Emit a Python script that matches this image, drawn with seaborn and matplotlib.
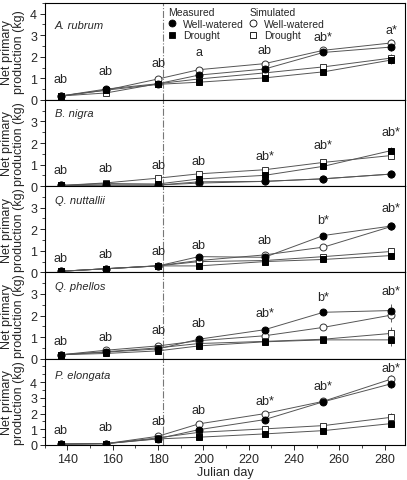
import numpy as np
import matplotlib
matplotlib.use("Agg")
import matplotlib.pyplot as plt
from matplotlib.lines import Line2D
from matplotlib.ticker import MultipleLocator
import seaborn as sns

# Julian days of sampling
days = [137, 157, 180, 198, 227, 253, 283]

species = ["A. rubrum", "B. nigra", "Q. nuttallii", "Q. phellos", "P. elongata"]

# measured well-watered, measured drought, simulated well-watered, simulated drought
rubrum_meas_ww = [0.18, 0.50, 0.75, 1.15, 1.43, 2.20, 2.45]
rubrum_meas_dr = [0.18, 0.45, 0.72, 0.82, 1.02, 1.30, 1.85]
rubrum_sim_ww = [0.18, 0.45, 0.97, 1.40, 1.68, 2.30, 2.64]
rubrum_sim_dr = [0.18, 0.32, 0.75, 0.97, 1.25, 1.53, 1.94]

nigra_meas_ww = [0.03, 0.05, 0.05, 0.20, 0.22, 0.34, 0.56]
nigra_meas_dr = [0.03, 0.12, 0.10, 0.33, 0.50, 0.92, 1.65]
nigra_sim_ww = [0.03, 0.05, 0.05, 0.14, 0.22, 0.34, 0.56]
nigra_sim_dr = [0.03, 0.15, 0.37, 0.57, 0.76, 1.10, 1.42]

nuttallii_meas_ww = [0.05, 0.17, 0.30, 0.73, 0.70, 1.71, 2.15]
nuttallii_meas_dr = [0.05, 0.17, 0.30, 0.30, 0.50, 0.60, 0.78]
nuttallii_sim_ww = [0.05, 0.17, 0.31, 0.55, 0.81, 1.17, 2.13]
nuttallii_sim_dr = [0.05, 0.17, 0.30, 0.50, 0.55, 0.73, 0.97]

phellos_meas_ww = [0.18, 0.30, 0.45, 0.90, 1.34, 2.15, 2.23]
phellos_meas_dr = [0.18, 0.24, 0.36, 0.59, 0.78, 0.87, 0.87]
phellos_sim_ww = [0.18, 0.39, 0.59, 0.83, 1.06, 1.45, 2.02]
phellos_sim_dr = [0.18, 0.32, 0.50, 0.70, 0.80, 0.90, 1.17]

elongata_meas_ww = [0.05, 0.08, 0.40, 0.97, 1.61, 2.75, 3.90]
elongata_meas_dr = [0.05, 0.08, 0.38, 0.49, 0.70, 0.91, 1.36]
elongata_sim_ww = [0.05, 0.08, 0.55, 1.34, 1.99, 2.78, 4.20]
elongata_sim_dr = [0.05, 0.08, 0.45, 0.80, 1.02, 1.23, 1.76]

# standard errors (rough)
rubrum_err = [0.03, 0.05, 0.08, 0.10, 0.10, 0.12, 0.20]
nigra_err = [0.02, 0.04, 0.05, 0.08, 0.10, 0.12, 0.15]
nuttallii_err = [0.02, 0.03, 0.05, 0.08, 0.08, 0.10, 0.15]
phellos_err = [0.03, 0.04, 0.05, 0.06, 0.08, 0.08, 0.30]
elongata_err = [0.02, 0.03, 0.10, 0.15, 0.15, 0.15, 0.25]

# significance letters above each date
rubrum_letters = ["ab", "ab", "ab", "a", "ab", "ab*", "a*"]
nigra_letters = ["ab", "ab", "ab", "ab", "ab*", "ab*", "ab*"]
nuttallii_letters = ["ab", "ab", "ab", "ab", "ab", "b*", "ab*"]
phellos_letters = ["ab", "ab", "ab", "ab", "ab*", "b*", "ab*"]
elongata_letters = ["ab", "ab", "ab", "ab", "ab*", "ab*", "ab*"]

rubrum_letter_y = [0.98, 1.35, 1.70, 2.20, 2.30, 2.90, 3.25]
nigra_letter_y = [0.75, 0.84, 0.98, 1.18, 1.39, 1.93, 2.50]
nuttallii_letter_y = [0.67, 0.86, 1.01, 1.29, 1.51, 2.42, 2.99]
phellos_letter_y = [0.83, 1.01, 1.32, 1.63, 2.12, 2.85, 3.13]
elongata_letter_y = [0.97, 1.12, 1.50, 2.20, 2.78, 3.74, 4.90]

panels = [
    (rubrum_meas_ww, rubrum_meas_dr, rubrum_sim_ww, rubrum_sim_dr, rubrum_err, rubrum_letters, rubrum_letter_y),
    (nigra_meas_ww, nigra_meas_dr, nigra_sim_ww, nigra_sim_dr, nigra_err, nigra_letters, nigra_letter_y),
    (nuttallii_meas_ww, nuttallii_meas_dr, nuttallii_sim_ww, nuttallii_sim_dr, nuttallii_err, nuttallii_letters, nuttallii_letter_y),
    (phellos_meas_ww, phellos_meas_dr, phellos_sim_ww, phellos_sim_dr, phellos_err, phellos_letters, phellos_letter_y),
    (elongata_meas_ww, elongata_meas_dr, elongata_sim_ww, elongata_sim_dr, elongata_err, elongata_letters, elongata_letter_y),
]

ylims = [4.5, 4.0, 4.0, 4.0, 5.5]
name_y = [3.45, 3.4, 3.35, 3.35, 4.45]

sns.set_style("ticks")
plt.rcParams['font.family'] = ['Liberation Sans', 'DejaVu Sans']
plt.rcParams['axes.linewidth'] = 0.8

fig, axes = plt.subplots(5, 1, figsize=(4.07, 4.81), dpi=100, sharex=True,
                         gridspec_kw={'height_ratios': [4.5, 4, 4, 4, 4]})
fig.subplots_adjust(left=0.11, right=0.995, top=0.992, bottom=0.073, hspace=0)

# marker styles: (marker, facecolor)
styles = [("o", "black"), ("s", "black"), ("o", "white"), ("s", "white")]
line_col = "#555555"

for i, ax in enumerate(axes):
    meas_ww, meas_dr, sim_ww, sim_dr, err, letters, letter_y = panels[i]
    series = [meas_ww, meas_dr, sim_ww, sim_dr]
    for k, vals in enumerate(series):
        mk, fc = styles[k]
        ax.errorbar(days, vals, yerr=err, fmt="none", ecolor="#444444",
                    elinewidth=0.6, capsize=0, zorder=2)
        sns.lineplot(x=days, y=vals, ax=ax, color=line_col, linewidth=0.7,
                     marker=mk, markersize=5, markerfacecolor=fc,
                     markeredgecolor="black" if fc == "black" else "#333333",
                     markeredgewidth=0.7, zorder=3 + (k < 2), legend=False)
    for d, lab, ly in zip(days, letters, letter_y):
        ax.text(d, ly, lab, ha="center", va="center", fontsize=9)
    ax.axvline(182, color="#777777", linestyle="-.", linewidth=0.8, zorder=1)
    ax.text(134.5, name_y[i], species[i], style="italic", fontsize=8,
            ha="left", va="center")
    ax.set_ylim(0, ylims[i])
    ax.set_xlim(130, 289)
    ax.set_yticks(range(0, 5) if i in (0, 4) else range(0, 4))
    ax.yaxis.set_minor_locator(MultipleLocator(0.5))
    ax.xaxis.set_major_locator(MultipleLocator(20))
    ax.xaxis.set_minor_locator(MultipleLocator(10))
    ax.tick_params(axis="both", which="major", direction="out", length=3.5,
                   width=0.7, labelsize=9, pad=2)
    ax.tick_params(axis="both", which="minor", direction="out", length=2,
                   width=0.6)
    ax.set_ylabel("Net primary\nproduction (kg)", fontsize=9, labelpad=4,
                  linespacing=1.0)
    for sp in ax.spines.values():
        sp.set_visible(True)
        sp.set_color("black")
    ax.set_xlabel("")

axes[-1].set_xlabel("Julian day", fontsize=9, labelpad=1)

# legends in the top panel
def handle(mk, fc):
    return Line2D([], [], linestyle="none", marker=mk, markersize=5,
                  markerfacecolor=fc, markeredgecolor="black", markeredgewidth=0.6)

leg1 = axes[0].legend([handle("o", "black"), handle("s", "black")],
                      ["Well-watered", "Drought"], title="Measured",
                      loc="upper left", bbox_to_anchor=(0.325, 1.02),
                      frameon=False, fontsize=7.5, title_fontsize=7.5,
                      handlelength=0.8, handletextpad=0.6, labelspacing=0.15,
                      borderaxespad=0.2)
leg1._legend_box.align = "left"
axes[0].add_artist(leg1)
leg2 = axes[0].legend([handle("o", "white"), handle("s", "white")],
                      ["Well-watered", "Drought"], title="Simulated",
                      loc="upper left", bbox_to_anchor=(0.55, 1.02),
                      frameon=False, fontsize=7.5, title_fontsize=7.5,
                      handlelength=0.8, handletextpad=0.6, labelspacing=0.15,
                      borderaxespad=0.2)
leg2._legend_box.align = "left"

fig.savefig("out.png", dpi=100)
